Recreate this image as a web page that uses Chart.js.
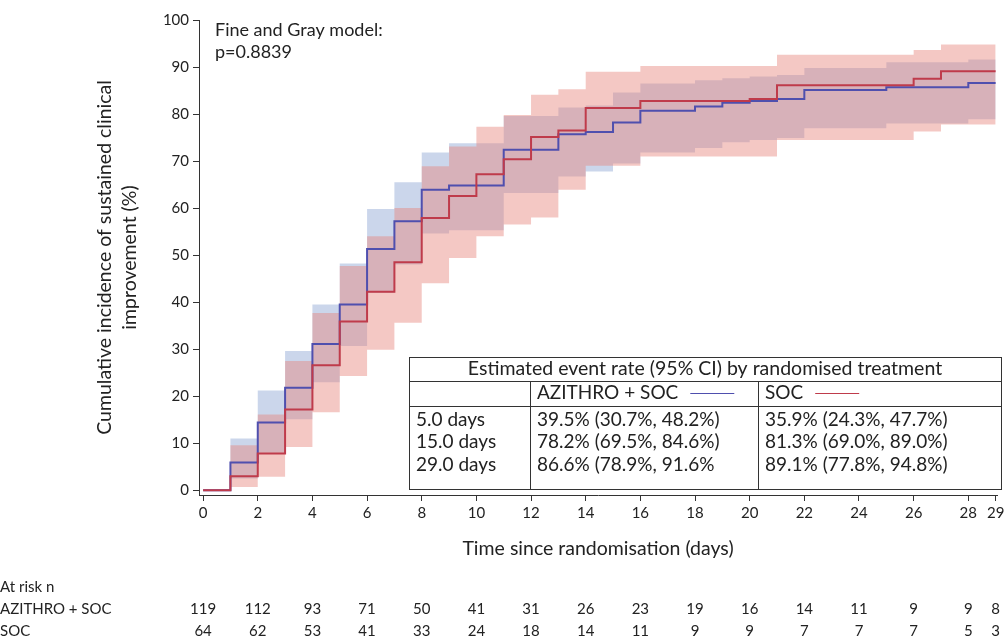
<!DOCTYPE html>
<html>
<head>
<meta charset="utf-8">
<script src="https://cdn.jsdelivr.net/npm/chart.js@4.4.1/dist/chart.umd.min.js"></script>
<style>
  html, body { margin: 0; padding: 0; background: #fff; }
</style>
</head>
<body>
<canvas id="kmChart" width="1008" height="643"></canvas>
<script>
// Days since randomisation (each value holds from that day on)
const days = [0, 1, 2, 3, 4, 5, 6, 7, 8, 9, 10, 11, 12, 13, 14, 15, 16, 17, 18, 19, 20, 21, 22, 23, 24, 25, 26, 27, 28, 29];

// AZITHRO + SOC: cumulative incidence (%) and 95% CI
const aziEst = [0, 5.9, 14.4, 21.8, 31.1, 39.5, 51.3, 57.2, 63.9, 64.8, 64.8, 72.4, 72.4, 75.7, 76.2, 78.2, 80.7, 80.7, 81.6, 82.4, 82.8, 83.2, 85.1, 85.1, 85.1, 85.7, 85.7, 85.7, 86.6, 86.6];
const aziLow = [0, 2.5, 8.0, 15.1, 23.0, 30.7, 42.0, 48.0, 54.6, 55.3, 55.3, 63.2, 63.2, 66.7, 67.8, 69.5, 71.8, 71.8, 72.8, 74.0, 74.5, 74.9, 77.0, 77.0, 77.0, 78.0, 78.0, 78.0, 78.9, 78.9];
const aziUpp = [0, 11.0, 21.2, 29.6, 39.5, 48.2, 59.8, 65.5, 71.8, 73.8, 73.8, 79.6, 79.6, 81.4, 81.8, 84.6, 86.5, 86.5, 87.2, 87.6, 88.0, 88.3, 89.8, 89.8, 89.8, 91.0, 91.0, 91.0, 91.6, 91.6];

// SOC: cumulative incidence (%) and 95% CI
const socEst = [0, 3.0, 7.8, 17.2, 26.6, 35.9, 42.2, 48.5, 57.9, 62.6, 67.2, 70.4, 75.1, 76.5, 81.3, 81.3, 82.8, 82.8, 82.8, 82.8, 83.2, 86.1, 86.1, 86.1, 86.1, 86.1, 87.5, 89.1, 89.1, 89.1];
const socLow = [0, 0.7, 2.9, 9.2, 16.6, 24.3, 29.9, 35.6, 44.0, 49.4, 54.0, 56.5, 58.0, 63.9, 69.0, 69.0, 71.0, 71.0, 71.0, 71.0, 71.0, 74.5, 74.5, 74.5, 74.5, 74.5, 76.3, 77.8, 77.8, 77.8];
const socUpp = [0, 9.6, 16.1, 27.5, 37.7, 47.7, 54.0, 60.0, 68.9, 73.1, 77.3, 79.8, 84.1, 85.3, 89.0, 89.0, 90.2, 90.2, 90.2, 90.2, 90.2, 92.6, 92.6, 92.6, 92.6, 92.6, 93.6, 94.8, 94.8, 94.8];

// Axis ticks
const xTicks = [0, 2, 4, 6, 8, 10, 12, 14, 16, 18, 20, 22, 24, 26, 28, 29];
const yTicks = [0, 10, 20, 30, 40, 50, 60, 70, 80, 90, 100];

// Numbers at risk
const riskDays = [0, 2, 4, 6, 8, 10, 12, 14, 16, 18, 20, 22, 24, 26, 28, 29];
const riskAzi = [119, 112, 93, 71, 50, 41, 31, 26, 23, 19, 16, 14, 11, 9, 9, 8];
const riskSoc = [64, 62, 53, 41, 33, 24, 18, 14, 11, 9, 9, 7, 7, 7, 5, 3];

// Inset table
const tableTitle = 'Estimated event rate (95% CI) by randomised treatment';
const tableTimes = ['5.0 days', '15.0 days', '29.0 days'];
const aziRates = ['39.5% (30.7%, 48.2%)', '78.2% (69.5%, 84.6%)', '86.6% (78.9%, 91.6%'];
const socRates = ['35.9% (24.3%, 47.7%)', '81.3% (69.0%, 89.0%)', '89.1% (77.8%, 94.8%)'];

const FONT = 'Lato, "Noto Sans", sans-serif';
const TEXT = '#222';
const BLUE = '#4f4fae';
const RED = '#bf3b4b';

function toPoints(values) {
    return days.map((d, i) => ({ x: d, y: values[i] }));
}

// Extra texts: model note, axis titles, at-risk rows, inset table
const extraText = {
    id: 'extraText',
    afterDraw(chart) {
        const ctx = chart.ctx;
        const xs = chart.scales.x;
        const area = chart.chartArea;
        ctx.save();
        ctx.fillStyle = TEXT;
        ctx.textBaseline = 'middle';

        ctx.font = '18px ' + FONT;
        ctx.textAlign = 'left';
        ctx.fillText('Fine and Gray model:', 215, 30);
        ctx.fillText('p=0.8839', 215, 52);

        // y title, two lines
        ctx.font = '19.5px ' + FONT;
        ctx.save();
        ctx.translate(117, (area.top + area.bottom) / 2);
        ctx.rotate(-Math.PI / 2);
        ctx.textAlign = 'center';
        ctx.fillText('Cumulative incidence of sustained clinical', 0, -12);
        ctx.fillText('improvement (%)', 0, 13);
        ctx.restore();

        ctx.textAlign = 'center';
        ctx.fillText('Time since randomisation (days)', (area.left + area.right) / 2, 549);

        // at risk
        ctx.font = '15px ' + FONT;
        ctx.textAlign = 'left';
        ctx.fillText('At risk n', 0, 587);
        ctx.fillText('AZITHRO + SOC', 0, 609);
        ctx.fillText('SOC', 0, 631);
        ctx.textAlign = 'center';
        riskDays.forEach((d, i) => {
            const px = xs.getPixelForValue(d);
            ctx.fillText(String(riskAzi[i]), px, 609);
            ctx.fillText(String(riskSoc[i]), px, 631);
        });

        // inset table
        const tb = { left: 409, top: 357, right: 1001, bottom: 489, row1: 381, row2: 406, col1: 530, col2: 758 };
        ctx.fillStyle = '#fff';
        ctx.fillRect(tb.left, tb.top, tb.right - tb.left, tb.bottom - tb.top);
        ctx.strokeStyle = '#333';
        ctx.lineWidth = 1;
        ctx.strokeRect(tb.left + 0.5, tb.top + 0.5, tb.right - tb.left, tb.bottom - tb.top);
        ctx.beginPath();
        ctx.moveTo(tb.left, tb.row1 + 0.5); ctx.lineTo(tb.right, tb.row1 + 0.5);
        ctx.moveTo(tb.left, tb.row2 + 0.5); ctx.lineTo(tb.right, tb.row2 + 0.5);
        ctx.moveTo(tb.col1 + 0.5, tb.row1); ctx.lineTo(tb.col1 + 0.5, tb.bottom);
        ctx.moveTo(tb.col2 + 0.5, tb.row1); ctx.lineTo(tb.col2 + 0.5, tb.bottom);
        ctx.stroke();

        ctx.fillStyle = TEXT;
        ctx.font = '19.5px ' + FONT;
        ctx.textAlign = 'center';
        ctx.fillText(tableTitle, (tb.left + tb.right) / 2, 369);
        ctx.font = '19px ' + FONT;
        ctx.textAlign = 'left';
        ctx.fillText('AZITHRO + SOC', tb.col1 + 7, 393);
        let w = ctx.measureText('AZITHRO + SOC').width;
        ctx.strokeStyle = BLUE;
        ctx.beginPath();
        ctx.moveTo(tb.col1 + 7 + w + 12, 393.5); ctx.lineTo(tb.col1 + 7 + w + 56, 393.5);
        ctx.stroke();
        ctx.fillText('SOC', tb.col2 + 7, 393);
        w = ctx.measureText('SOC').width;
        ctx.strokeStyle = RED;
        ctx.beginPath();
        ctx.moveTo(tb.col2 + 7 + w + 12, 393.5); ctx.lineTo(tb.col2 + 7 + w + 56, 393.5);
        ctx.stroke();

        const rowY = [420, 442, 465];
        tableTimes.forEach((t, i) => {
            ctx.fillText(t, tb.left + 7, rowY[i]);
            ctx.fillText(aziRates[i], tb.col1 + 7, rowY[i]);
            ctx.fillText(socRates[i], tb.col2 + 7, rowY[i]);
        });
        ctx.restore();
    }
};

const band = { pointRadius: 0, borderWidth: 1, borderColor: 'transparent', stepped: 'before' };
const tickFont = { family: FONT, size: 15 };

const ctx = document.getElementById('kmChart').getContext('2d');
window.kmChart = new Chart(ctx, {
    type: 'line',
    data: {
        datasets: [
            { label: 'SOC', data: toPoints(socEst), borderColor: RED, borderWidth: 2, pointRadius: 0, stepped: 'before', fill: false, order: 0 },
            { label: 'AZITHRO + SOC', data: toPoints(aziEst), borderColor: BLUE, borderWidth: 2, pointRadius: 0, stepped: 'before', fill: false, order: 1 },
            { label: 'SOC upper', data: toPoints(socUpp), ...band, fill: '+1', backgroundColor: 'rgba(231,133,124,0.45)', order: 2 },
            { label: 'SOC lower', data: toPoints(socLow), ...band, fill: false, order: 3 },
            { label: 'AZITHRO upper', data: toPoints(aziUpp), ...band, fill: '+1', backgroundColor: 'rgba(140,165,210,0.45)', order: 4 },
            { label: 'AZITHRO lower', data: toPoints(aziLow), ...band, fill: false, order: 5 }
        ]
    },
    options: {
        responsive: false,
        animation: false,
        events: [],
        layout: { padding: { top: 20, right: 11, left: 0, bottom: 0 } },
        plugins: {
            legend: { display: false },
            tooltip: { enabled: false }
        },
        scales: {
            x: {
                type: 'linear',
                min: -0.15,
                max: 29.05,
                afterBuildTicks: s => { s.ticks = xTicks.map(v => ({ value: v })); },
                afterFit: s => { s.height = 148; },
                ticks: { autoSkip: false, maxRotation: 0, font: tickFont, color: TEXT, padding: 3 },
                grid: { drawOnChartArea: false, tickLength: 6, tickColor: '#333' },
                border: { color: '#333' }
            },
            y: {
                type: 'linear',
                min: -1,
                max: 100,
                afterBuildTicks: s => { s.ticks = yTicks.map(v => ({ value: v })); },
                afterFit: s => { s.width = 199; },
                ticks: { font: tickFont, color: TEXT, padding: 4 },
                grid: { drawOnChartArea: false, tickLength: 6, tickColor: '#333' },
                border: { color: '#333' }
            }
        }
    },
    plugins: [extraText]
});
</script>
</body>
</html>
